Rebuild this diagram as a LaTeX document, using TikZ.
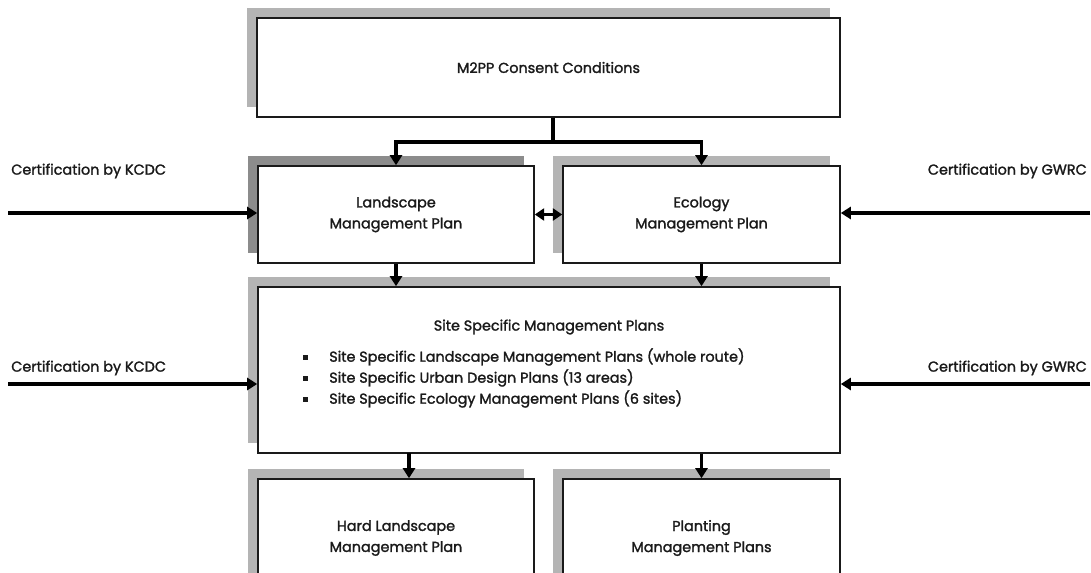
\documentclass[tikz,border=0pt]{standalone}
\usepackage{fontspec}
\setmainfont{Poppins}[FakeBold=1.6]
\usetikzlibrary{arrows.meta,shadows}
\definecolor{shlight}{HTML}{B4B4B4}
\definecolor{shdark}{HTML}{8C8C8C}
\definecolor{ink}{HTML}{1A1A1A}
\begin{document}
\begin{tikzpicture}[x=0.75pt,y=-0.75pt,
  txt/.style={font=\fontsize{10.8}{15.75}\selectfont, text=ink, align=center, inner sep=0pt},
  box/.style={draw=ink, line width=1.2pt, fill=white, inner sep=0pt,
    general shadow={fill=#1, shadow xshift=-7.5pt, shadow yshift=7.5pt}},
  box/.default=shlight,
  arr/.style={draw=black, line width=2.6pt, -{Triangle[length=7.5pt,width=9pt]}},
  darr/.style={draw=black, line width=2.6pt, {Triangle[length=7pt,width=9pt]}-{Triangle[length=7pt,width=9pt]}},
  conn/.style={draw=black, line width=2.6pt}
]
\useasboundingbox (0,0) rectangle (1091,572);

% boxes
\node[box, minimum width=437.25pt, minimum height=74.25pt] (top) at (548.5,67.5) {};
\node[box=shdark, minimum width=207pt, minimum height=72.75pt] (land) at (396,214.5) {};
\node[box, minimum width=207.75pt, minimum height=72.75pt] (eco) at (701.5,214.5) {};
\node[box, minimum width=436.5pt, minimum height=124.5pt] (site) at (549,370) {};
\node[box, minimum width=207pt, minimum height=88.5pt] (hard) at (396,538) {};
\node[box, minimum width=207.75pt, minimum height=88.5pt] (plant) at (701.5,538) {};

% texts in boxes
\node[txt] (toptxt) at (top.center) {M2PP Consent Conditions};
\node[txt] (landtxt) at (land.center) {Landscape\\Management Plan};
\node[txt] (ecotxt) at (eco.center) {Ecology\\Management Plan};
\node[txt] (sitetitle) at (549,327) {Site Specific Management Plans};
\node[txt, align=left, anchor=north west] (sitelist) at (303,348) {%
  \makebox[19.5pt][l]{\raisebox{1.5pt}{\rule{3.2pt}{3.2pt}}}Site Specific Landscape Management Plans (whole route)\\
  \makebox[19.5pt][l]{\raisebox{1.5pt}{\rule{3.2pt}{3.2pt}}}Site Specific Urban Design Plans (13 areas)\\
  \makebox[19.5pt][l]{\raisebox{1.5pt}{\rule{3.2pt}{3.2pt}}}Site Specific Ecology Management Plans (6 sites)};
\node[txt] (hardtxt) at (hard.center) {Hard Landscape\\Management Plan};
\node[txt] (planttxt) at (plant.center) {Planting\\Management Plans};

% connectors from top
\coordinate (split) at (553,142);
\draw[conn] (top.south -| split) -- (split);
\draw[arr] (split) -| (land.north);
\draw[arr] (split) -| (eco.north);
\draw[darr] (land.east) -- (eco.west);

% to site box
\draw[arr] (land.south) -- (land.south |- site.north);
\draw[arr] (eco.south) -- (eco.south |- site.north);

% to bottom boxes
\coordinate (hb) at (409,453);
\draw[arr] (hb) -- (hb |- hard.north);
\draw[arr] (eco.south |- site.south) -- (plant.north);

% certifications
\coordinate (k1) at (8,213);
\coordinate (g1) at (1090,213);
\coordinate (k2) at (8,384);
\coordinate (g2) at (1090,384);
\draw[arr] (k1) -- (k1 -| land.west);
\draw[arr] (g1) -- (g1 -| eco.east);
\draw[arr] (k2) -- (k2 -| site.west);
\draw[arr] (g2) -- (g2 -| site.east);
\node[txt, anchor=west] (k1t) at (11,171) {Certification by KCDC};
\node[txt, anchor=east] (g1t) at (1087,171) {Certification by GWRC};
\node[txt, anchor=west] (k2t) at (11,368) {Certification by KCDC};
\node[txt, anchor=east] (g2t) at (1087,368) {Certification by GWRC};
\end{tikzpicture}
\end{document}
